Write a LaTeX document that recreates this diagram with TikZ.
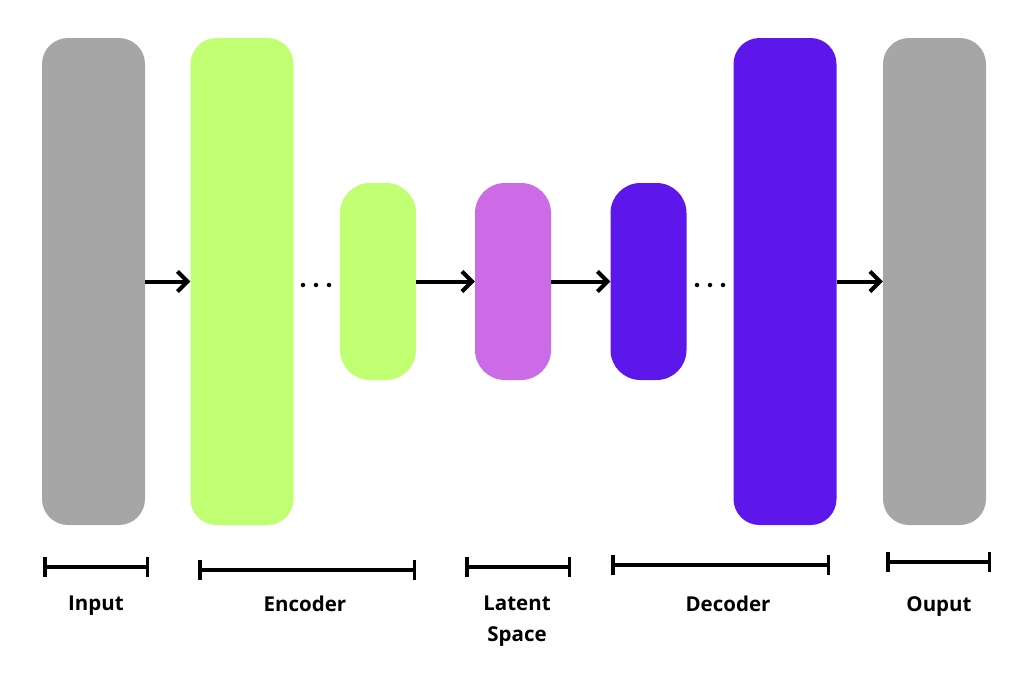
\documentclass[tikz,border=0pt]{standalone}
\usepackage{fontspec}
\setmainfont{Open Sans}
\usetikzlibrary{arrows.meta}
\definecolor{grayb}{HTML}{A6A6A6}
\definecolor{greenb}{HTML}{C1FF72}
\definecolor{latent}{HTML}{CB6CE6}
\definecolor{violetb}{HTML}{5E17EB}
\tikzset{
  bigbox/.style={rectangle, rounded corners=26pt, minimum width=103pt, minimum height=487pt, inner sep=0pt, draw=none},
  smallbox/.style={rectangle, rounded corners=30pt, minimum width=76pt, minimum height=197pt, inner sep=0pt, draw=none},
  arr/.style={line width=4pt, -{Straight Barb[length=10pt,width=20pt,line width=4pt]}},
  brk/.style={line width=3.5pt, {Bar[width=20pt,line width=3.5pt]}-{Bar[width=20pt,line width=3.5pt]}},
  lbl/.style={font=\fontsize{20.5}{31}\selectfont\bfseries, align=center, anchor=north, inner sep=0pt},
  dot/.style={circle, fill=black, inner sep=0pt, minimum size=4.5pt}
}
\begin{document}
\begin{tikzpicture}[x=1pt,y=-1pt]
\useasboundingbox (0,0) rectangle (1024,678);
\node[bigbox, fill=grayb] (in) at (93.5,281.5) {};
\node[bigbox, fill=greenb] (enc1) at (242,281.5) {};
\node[smallbox, fill=greenb] (enc2) at (378,281.5) {};
\node[smallbox, fill=latent] (lat) at (513,281.5) {};
\node[smallbox, fill=violetb] (dec1) at (648.5,281.5) {};
\node[bigbox, fill=violetb] (dec2) at (785,281.5) {};
\node[bigbox, fill=grayb] (out) at (934.5,281.5) {};

\draw[arr] (in.east) -- (enc1.west);
\draw[arr] (enc2.east) -- (lat.west);
\draw[arr] (lat.east) -- (dec1.west);
\draw[arr] (dec2.east) -- (out.west);

\node[dot] (d1) at (303,285) {};
\node[dot] (d2) at (316,285) {};
\node[dot] (d3) at (329,285) {};
\node[dot] (d4) at (697,285) {};
\node[dot] (d5) at (710,285) {};
\node[dot] (d6) at (723,285) {};

\coordinate (b1l) at (43,567); \coordinate (b1r) at (149,567);
\coordinate (b2l) at (198,570); \coordinate (b2r) at (416,570);
\coordinate (b3l) at (465,567); \coordinate (b3r) at (571,567);
\coordinate (b4l) at (611,565); \coordinate (b4r) at (830,565);
\coordinate (b5l) at (886,562); \coordinate (b5r) at (991,562);
\draw[brk] (b1l) -- (b1r);
\draw[brk] (b2l) -- (b2r);
\draw[brk] (b3l) -- (b3r);
\draw[brk] (b4l) -- (b4r);
\draw[brk] (b5l) -- (b5r);

\node[lbl] (t1) at (96,596) {Input};
\node[lbl] (t2) at (305,596) {Encoder};
\node[lbl] (t3) at (517,596) {Latent\\Space};
\node[lbl] (t4) at (728,596) {Decoder};
\node[lbl] (t5) at (939,596) {Ouput};
\end{tikzpicture}
\end{document}
